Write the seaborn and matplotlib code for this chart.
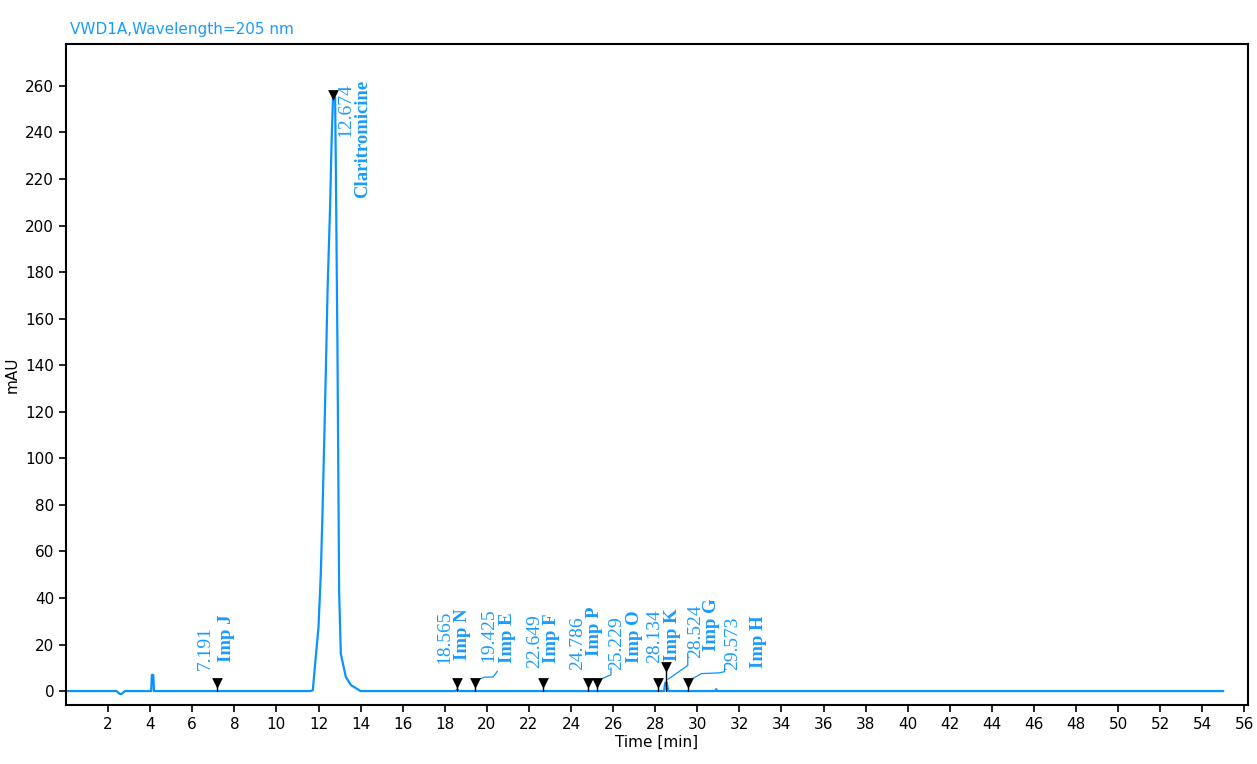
import numpy as np
import pandas as pd
import matplotlib
matplotlib.use("Agg")
import matplotlib.pyplot as plt
import seaborn as sns

# chromatogram trace (time in min, signal in mAU)
trace_time = [0.0, 2.4, 2.55, 2.65, 2.8, 4.05, 4.08, 4.15, 4.18, 11.6, 11.73, 11.78,
              12.0, 12.11, 12.19, 12.27, 12.35, 12.43, 12.55, 12.62, 12.69, 12.79,
              12.82, 12.90, 12.98, 13.06, 13.30, 13.55, 13.77, 14.0, 18.5, 18.6,
              18.7, 28.42, 28.48, 28.55, 28.62, 30.85, 30.9, 30.95, 55.0]
trace_mau = [0.0, 0.0, -1.2, -1.2, 0.0, 0.0, 6.9, 6.9, 0.0, 0.0, 0.3, 5.6,
             27.5, 50.7, 76.5, 106.6, 138.0, 172.0, 208.0, 235.5, 255.0, 255.0,
             229.0, 148.0, 43.0, 16.0, 6.0, 2.5, 1.3, 0.0, 0.0, 0.6,
             0.0, 0.0, 3.6, 3.6, 0.0, 0.0, 0.8, 0.0, 0.0]

# integrated peaks
peak_rt = [7.191, 12.674, 18.565, 19.425, 22.649, 24.786, 25.229, 28.134, 28.524, 29.573]
peak_name = ["Imp J", "Claritromicine", "Imp N", "Imp E", "Imp F", "Imp P", "Imp O",
             "Imp K", "Imp G", "Imp H"]
marker_mau = [3.4, 256.0, 3.4, 3.4, 3.4, 3.4, 3.4, 3.4, 10.3, 3.4]

# label layout: x of number / name column (min), bottom of the text (mAU)
num_x = [6.62, 13.3, 18.02, 20.09, 22.27, 24.31, 26.16, 27.95, 29.9, 31.7]
name_x = [7.64, 14.1, 18.85, 20.99, 23.08, 25.12, 27.02, 28.82, 30.7, 32.9]
num_y = [9.0, 238.0, 11.5, 12.5, 10.0, 9.0, 9.0, 12.0, 14.0, 9.0]
name_y = [12.5, 212.0, 13.5, 12.0, 12.0, 15.0, 12.0, 13.0, 17.0, 10.0]

x_ticks = list(range(2, 57, 2))
y_ticks = list(range(0, 261, 20))

blue = "#0A93FF"
text_blue = "#1A9BFF"

sns.set_style("ticks")
plt.rcParams["font.family"] = ["DejaVu Sans"]

fig = plt.figure(figsize=(12.57, 7.64), dpi=100)
ax = fig.add_axes([0.0525, 0.0772, 0.9403, 0.8652])

df = pd.DataFrame({"time": trace_time, "mAU": trace_mau})
sns.lineplot(data=df, x="time", y="mAU", ax=ax, color=blue, lw=1.6,
             estimator=None, sort=False)

# peak markers with short stems
for t, m in zip(peak_rt, marker_mau):
    if m < 20:
        ax.plot([t, t], [0, m], color="black", lw=1.0, zorder=3)
ax.scatter(peak_rt, marker_mau, marker="v", s=60, color="black", zorder=4,
           linewidths=0)

# leader lines for labels that sit to the right of their marker
ax.plot([19.45, 19.9, 20.3, 20.5], [4.5, 6.0, 6.0, 8.5], color=blue, lw=0.9)
ax.plot([25.26, 25.9, 25.9], [4.5, 7.0, 10.0], color=blue, lw=0.9)
ax.plot([28.6, 29.55, 29.55], [5.0, 11.0, 16.0], color=blue, lw=0.9)
ax.plot([29.6, 30.2, 31.0, 31.3, 31.3], [4.5, 7.5, 7.8, 8.3, 11.0], color=blue, lw=0.9)

for i in range(len(peak_rt)):
    ax.text(num_x[i], num_y[i], f"{peak_rt[i]:.3f}", rotation=90, ha="center",
            va="bottom", color=text_blue, fontsize=14, family="Liberation Serif")
    ax.text(name_x[i], name_y[i], peak_name[i], rotation=90, ha="center",
            va="bottom", color=text_blue, fontsize=13.5, fontweight="bold",
            family="Liberation Serif")

ax.set_xlim(0, 56.17)
ax.set_ylim(-6, 278)
ax.set_xticks(x_ticks)
ax.set_yticks(y_ticks)
ax.tick_params(axis="both", labelsize=11, length=5, width=1.2, color="black",
               labelcolor="black")
for s in ax.spines.values():
    s.set_visible(True)
    s.set_linewidth(1.5)
    s.set_color("black")

ax.set_xlabel("Time [min]", fontsize=11, labelpad=2, color="black")
ax.set_ylabel("mAU", fontsize=11, labelpad=4, color="black")
fig.text(0.056, 0.962, "VWD1A,Wavelength=205 nm", color=text_blue, fontsize=11,
         ha="left", va="center")

fig.savefig("out.png", dpi=100)
